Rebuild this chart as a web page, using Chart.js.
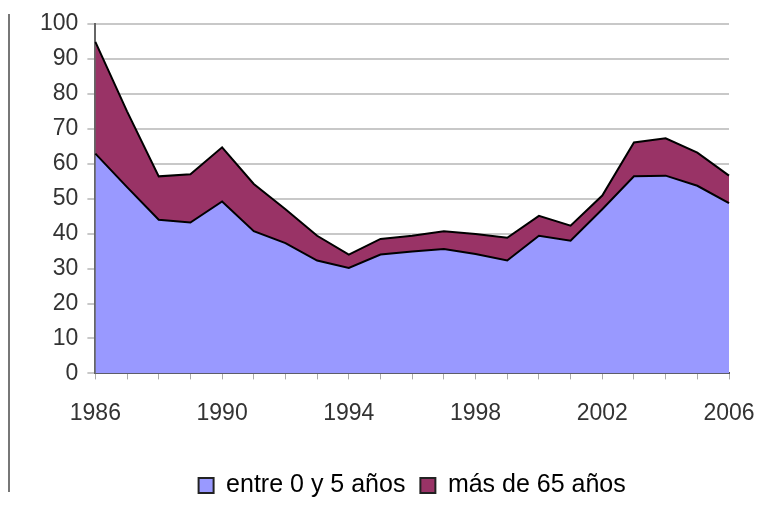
<!DOCTYPE html>
<html>
<head>
<meta charset="utf-8">
<script src="https://cdn.jsdelivr.net/npm/chart.js@4"></script>
<style>
  html, body { margin: 0; padding: 0; background: #fff; overflow: hidden; }
  #wrap { position: relative; width: 767px; height: 508px; }
  #edge { position: absolute; left: 8px; top: 14px; width: 0; height: 478px; border-left: 2px solid #777; }
</style>
</head>
<body>
<div id="wrap">
  <canvas id="myChart" width="767" height="508"></canvas>
  <div id="edge"></div>
</div>
<script>
// years on the x axis
var years = ['1986','1987','1988','1989','1990','1991','1992','1993','1994','1995','1996',
             '1997','1998','1999','2000','2001','2002','2003','2004','2005','2006'];

// stacked series
var ninos = [62.9, 53.3, 44.0, 43.2, 49.2, 40.7, 37.3, 32.3, 30.2, 34.0, 34.9,
             35.6, 34.2, 32.3, 39.4, 38.0, 47.0, 56.4, 56.6, 53.7, 48.7];
var mayores = [32.0, 21.7, 12.4, 13.8, 15.5, 13.5, 9.7, 7.1, 3.8, 4.5, 4.5,
               5.1, 5.7, 6.5, 5.7, 4.3, 3.9, 9.7, 10.7, 9.5, 7.9];

var labelNinos = 'entre 0 y 5 años';
var labelMayores = 'más de 65 años';

var fontFam = '"Liberation Sans", Arial, sans-serif';
Chart.defaults.font.family = fontFam;
Chart.defaults.color = '#333';

const ctx = document.getElementById('myChart').getContext('2d');

var myChart = new Chart(ctx, {
    type: 'line',
    data: {
        labels: years,
        datasets: [{
            label: labelNinos,
            data: ninos,
            backgroundColor: '#9999ff',
            borderColor: '#000',
            borderWidth: 2,
            fill: 'origin',
            pointRadius: 0,
            tension: 0
        }, {
            label: labelMayores,
            data: mayores,
            backgroundColor: '#993366',
            borderColor: '#000',
            borderWidth: 2,
            fill: '-1',
            pointRadius: 0,
            tension: 0
        }]
    },
    options: {
        responsive: false,
        animation: false,
        layout: {
            padding: { left: 31, right: 38, top: 24, bottom: 0 }
        },
        plugins: {
            tooltip: { enabled: false },
            legend: {
                position: 'bottom',
                fullSize: false,
                labels: {
                    boxWidth: 15,
                    boxHeight: 15,
                    padding: 15,
                    color: '#333',
                    font: { size: 25 },
                    generateLabels: function (chart) {
                        return chart.data.datasets.map(function (ds, i) {
                            return {
                                text: ds.label,
                                fillStyle: ds.backgroundColor,
                                strokeStyle: '#222',
                                lineWidth: 2,
                                datasetIndex: i,
                                hidden: false
                            };
                        });
                    }
                }
            }
        },
        scales: {
            x: {
                offset: false,
                border: { color: '#555', width: 2 },
                grid: { drawOnChartArea: false, drawTicks: true, tickLength: 6, color: '#aaa' },
                ticks: {
                    autoSkip: false,
                    maxRotation: 0,
                    padding: 20,
                    color: '#333',
                    font: { size: 23 },
                    callback: function (val, i) {
                        return (i % 4 === 0) ? years[i] : '';
                    }
                },
                afterFit: function (scale) {
                    scale.height += 11;
                    scale.paddingRight = 0;
                }
            },
            y: {
                stacked: true,
                min: 0,
                max: 100,
                border: { color: '#666', width: 2 },
                grid: { color: '#c8c8c8', lineWidth: 2, tickLength: 8 },
                ticks: {
                    stepSize: 10,
                    padding: 9,
                    color: '#333',
                    font: { size: 23 }
                }
            }
        }
    }
});
</script>
</body>
</html>
